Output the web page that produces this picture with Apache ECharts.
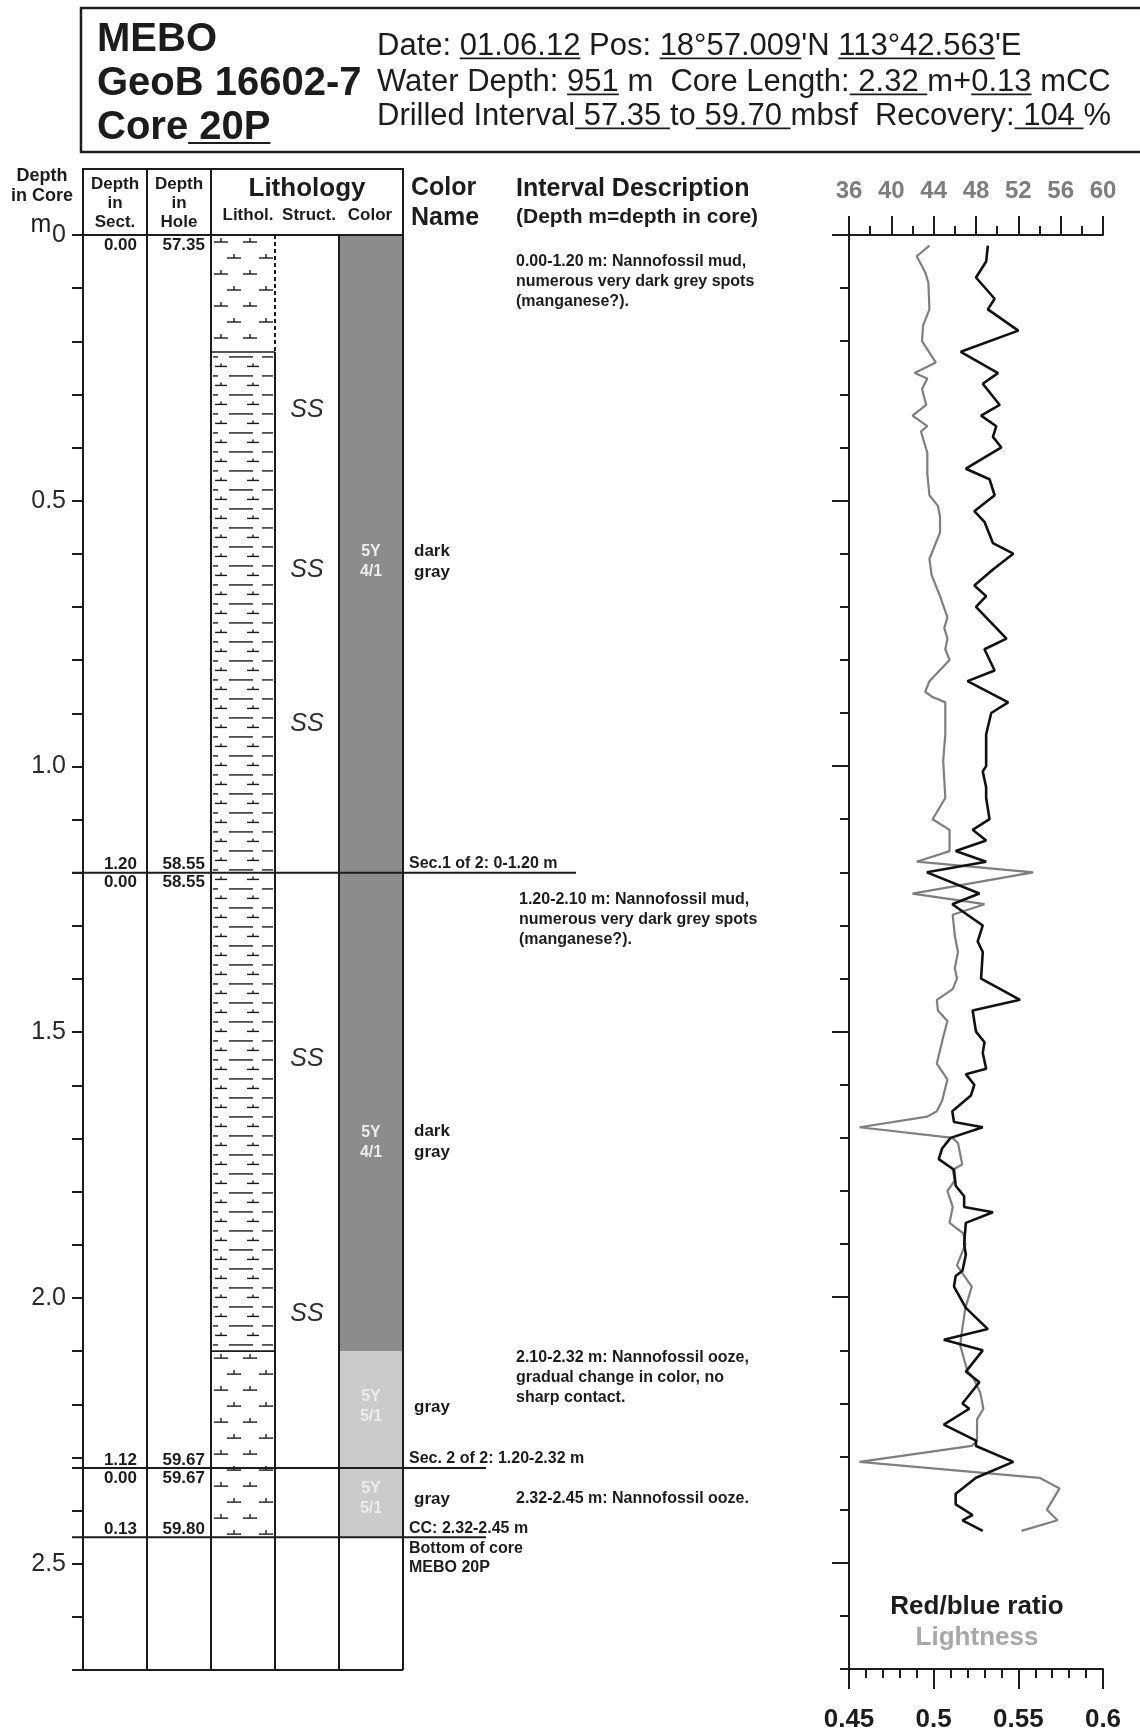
<!DOCTYPE html>
<html>
<head>
<meta charset="utf-8">
<script src="https://cdn.jsdelivr.net/npm/echarts@6/dist/echarts.min.js"></script>
<style>
  html, body { margin: 0; padding: 0; background: #fff; }
  #chart { width: 1140px; height: 1735px; }
</style>
</head>
<body>
<div id="chart"></div>
<script>
// ---- core data (depth in core, m) ----
const secTop = [0, 1.20, 2.32]
const secBottom = [1.20, 2.32, 2.45]
const secName = ['Sec.1 of 2: 0-1.20 m', 'Sec. 2 of 2: 1.20-2.32 m', 'CC: 2.32-2.45 m']
const secLenLabel = ['1.20', '1.12', '0.13']
const secHoleTop = ['57.35', '58.55', '59.67']
const secHoleBottom = ['58.55', '59.67', '59.80']
const bottomNote = 'Bottom of core\nMEBO 20P'

const lithTop = [0, 0.22, 2.10]
const lithBottom = [0.22, 2.10, 2.45]
const lithType = ['ooze', 'mud', 'ooze']

const structDepth = [0.33, 0.63, 0.92, 1.55, 2.03]

const colorTop = [0, 1.20, 2.10, 2.32]
const colorBottom = [1.20, 2.10, 2.32, 2.45]
const colorCode = ['5Y 4/1', '5Y 4/1', '5Y 5/1', '5Y 5/1']
const colorName = ['dark gray', 'dark gray', 'gray', 'gray']
const colorLabelDepth = [0.615, 1.707, 2.205, 2.378]

const descDepth = [0.05, 1.25, 2.113, 2.378]
const descText = [
  '0.00-1.20 m: Nannofossil mud,\nnumerous very dark grey spots\n(manganese?).',
  '1.20-2.10 m: Nannofossil mud,\nnumerous very dark grey spots\n(manganese?).',
  '2.10-2.32 m: Nannofossil ooze,\ngradual change in color, no\nsharp contact.',
  '2.32-2.45 m: Nannofossil ooze.'
]

// ---- colour scan curves ----
const rbDepth = [0.02, 0.05, 0.08, 0.12, 0.14, 0.18, 0.22, 0.26, 0.28, 0.32, 0.34, 0.36, 0.38, 0.40, 0.44, 0.46,
  0.49, 0.52, 0.54, 0.58, 0.60, 0.63, 0.66, 0.68, 0.70, 0.76, 0.78, 0.82, 0.84, 0.88, 0.90, 0.94, 1.00, 1.01,
  1.04, 1.06, 1.10, 1.12, 1.14, 1.16, 1.18, 1.20, 1.24, 1.26, 1.30, 1.33, 1.35, 1.40, 1.44, 1.46, 1.50, 1.52,
  1.54, 1.57, 1.58, 1.60, 1.62, 1.65, 1.67, 1.68, 1.70, 1.72, 1.74, 1.76, 1.79, 1.81, 1.83, 1.84, 1.86, 1.90,
  1.92, 1.95, 1.96, 1.98, 2.02, 2.06, 2.08, 2.10, 2.14, 2.16, 2.20, 2.21, 2.24, 2.27, 2.28, 2.31, 2.34, 2.37,
  2.39, 2.41, 2.42, 2.44]
const rbValue = [0.532, 0.531, 0.525, 0.536, 0.532, 0.550, 0.516, 0.538, 0.529, 0.539, 0.528, 0.537, 0.535, 0.540,
  0.519, 0.533, 0.536, 0.524, 0.530, 0.535, 0.547, 0.535, 0.524, 0.531, 0.525, 0.543, 0.530, 0.536, 0.520, 0.544,
  0.534, 0.531, 0.531, 0.529, 0.531, 0.531, 0.533, 0.523, 0.531, 0.513, 0.531, 0.496, 0.527, 0.511, 0.529, 0.526,
  0.529, 0.528, 0.551, 0.523, 0.525, 0.530, 0.529, 0.531, 0.519, 0.524, 0.522, 0.511, 0.512, 0.529, 0.510, 0.505,
  0.503, 0.512, 0.513, 0.518, 0.518, 0.535, 0.519, 0.518, 0.519, 0.517, 0.513, 0.512, 0.519, 0.532, 0.506, 0.529,
  0.519, 0.527, 0.517, 0.521, 0.506, 0.525, 0.525, 0.547, 0.525, 0.513, 0.513, 0.523, 0.517, 0.529]

const lDepth = [0.02, 0.04, 0.07, 0.09, 0.14, 0.17, 0.20, 0.24, 0.26, 0.27, 0.29, 0.32, 0.34, 0.36, 0.37, 0.41,
  0.45, 0.49, 0.51, 0.53, 0.56, 0.61, 0.64, 0.68, 0.72, 0.74, 0.76, 0.78, 0.80, 0.84, 0.86, 0.87, 0.88, 0.94,
  0.99, 1.06, 1.10, 1.12, 1.16, 1.18, 1.20, 1.24, 1.26, 1.28, 1.32, 1.35, 1.38, 1.40, 1.42, 1.44, 1.46, 1.48,
  1.51, 1.56, 1.59, 1.63, 1.65, 1.66, 1.68, 1.70, 1.71, 1.75, 1.76, 1.78, 1.80, 1.83, 1.86, 1.88, 1.90, 1.94,
  1.98, 2.02, 2.06, 2.09, 2.14, 2.15, 2.18, 2.21, 2.23, 2.27, 2.28, 2.31, 2.34, 2.36, 2.40, 2.42, 2.44]
const lValue = [43.6, 42.4, 43.2, 43.5, 43.6, 43.0, 42.9, 44.2, 42.2, 43.4, 42.9, 43.3, 42.0, 43.4, 42.8, 43.4,
  43.4, 43.6, 44.4, 44.6, 44.6, 43.6, 43.8, 44.6, 45.3, 45.0, 45.3, 45.1, 45.5, 43.6, 43.2, 43.9, 45.1, 45.1,
  44.9, 45.1, 43.9, 45.5, 45.5, 42.4, 53.4, 42.0, 48.8, 45.8, 46.0, 46.3, 46.0, 46.2, 45.8, 44.3, 44.4, 45.3,
  44.9, 44.3, 45.3, 44.8, 44.3, 43.4, 37.0, 45.8, 46.3, 46.7, 45.8, 46.0, 45.3, 45.8, 45.5, 46.8, 47.0, 46.2,
  47.6, 47.0, 46.7, 46.5, 47.2, 47.7, 48.4, 48.7, 48.1, 48.1, 47.6, 37.0, 54.0, 55.9, 54.7, 55.7, 52.3]

// ---- header text ----
const titleLines = [
  [['MEBO', 0]],
  [['GeoB 16602-7', 0]],
  [['Core', 0], [' 20P', 1]]
]
const infoLines = [
  [['Date: ', 0], ['01.06.12', 1], [' Pos: ', 0], ['18°57.009', 1], ['\'N ', 0], ['113°42.563', 1], ['\'E', 0]],
  [['Water Depth: ', 0], ['951', 1], [' m  Core Length:', 0], [' 2.32 ', 1], ['m+', 0], ['0.13', 1], [' mCC', 0]],
  [['Drilled Interval', 0], [' 57.35 ', 1], ['to', 0], [' 59.70 ', 1], ['mbsf  Recovery:', 0], [' 104 ', 1], ['%', 0]]
]

const FONT = "'Liberation Sans', Arial, Helvetica, sans-serif"
const INK = '#1c1c1c'
const depthMax = 2.7
const munsellFill = { '5Y 4/1': '#8c8c8c', '5Y 5/1': '#cbcbcb' }

const chart = echarts.init(document.getElementById('chart'))

const measureCtx = document.createElement('canvas').getContext('2d')
function textWidth(t, size, weight) {
  measureCtx.font = `${weight} ${size}px ${FONT}`
  return measureCtx.measureText(t).width
}

function txt(x, y, text, o) {
  o = o || {}
  const style = {
    text,
    fill: o.fill || INK,
    fontSize: o.size || 17,
    fontWeight: o.weight || 'bold',
    fontStyle: o.style || 'normal',
    fontFamily: FONT,
    align: o.align || 'left',
    verticalAlign: o.va || 'middle'
  }
  if (o.lh) style.lineHeight = o.lh
  return { type: 'text', x, y, silent: true, style }
}

function seg(x1, y1, x2, y2, w, dash) {
  const style = { stroke: INK, lineWidth: w || 2 }
  if (dash) style.lineDash = dash
  return { type: 'line', silent: true, shape: { x1, y1, x2, y2 }, style }
}

function textRow(x, y, parts, size, weight) {
  const out = []
  let cx = x
  parts.forEach(([t, u]) => {
    const w = textWidth(t, size, weight)
    out.push(txt(cx, y, t, { size, weight }))
    if (u) out.push(seg(cx, y + size * 0.3 + 3, cx + w, y + size * 0.3 + 3, 1.8))
    cx += w
  })
  return out
}

// header graphics (layout only)
const headerGraphics = [
  { type: 'rect', silent: true, shape: { x: 81, y: 8, width: 1080, height: 144 }, style: { fill: 'none', stroke: INK, lineWidth: 2.5 } },
  ...textRow(97, 40, titleLines[0], 40, 'bold'),
  ...textRow(97, 84, titleLines[1], 40, 'bold'),
  ...textRow(97, 128, titleLines[2], 40, 'bold'),
  ...textRow(377, 46, infoLines[0], 31, 'normal'),
  ...textRow(377, 82, infoLines[1], 31, 'normal'),
  ...textRow(377, 116, infoLines[2], 31, 'normal'),
  // column header block
  { type: 'rect', silent: true, shape: { x: 83, y: 169, width: 320, height: 66 }, style: { fill: 'none', stroke: INK, lineWidth: 2 } },
  seg(147, 169, 147, 235), seg(211, 169, 211, 235),
  txt(42, 186, 'Depth\nin Core', { size: 18, align: 'center', lh: 20 }),
  txt(41, 225, 'm', { size: 25, weight: 'normal', align: 'center' }),
  txt(115, 203, 'Depth\nin\nSect.', { size: 17, align: 'center', lh: 19 }),
  txt(179, 203, 'Depth\nin\nHole', { size: 17, align: 'center', lh: 19 }),
  txt(307, 189, 'Lithology', { size: 26, align: 'center' }),
  txt(248, 215, 'Lithol.', { size: 17, align: 'center' }),
  txt(309, 215, 'Struct.', { size: 17, align: 'center' }),
  txt(370, 215, 'Color', { size: 17, align: 'center' }),
  txt(411, 203, 'Color\nName', { size: 25, lh: 30 }),
  txt(516, 189, 'Interval Description', { size: 25 }),
  txt(516, 217, '(Depth m=depth in core)', { size: 21 }),
  // curve legend
  txt(977, 1607, 'Red/blue ratio', { size: 26, align: 'center' }),
  txt(977, 1638, 'Lightness', { size: 26, align: 'center', fill: '#a8a8a8' })
]

function renderFrame(params, api) {
  const X = c => api.coord([c, 0])[0]
  const yT = api.coord([0, 0])[1]
  const yB = api.coord([0, depthMax])[1]
  const yL = api.coord([0, lithBottom[0]])[1]
  return {
    type: 'group',
    children: [
      seg(X(0) - 11, yT, X(5), yT),
      seg(X(1), yT, X(1), yB), seg(X(2), yT, X(2), yB),
      seg(X(3), yL, X(3), yB),
      seg(X(4), yT, X(4), yB), seg(X(5), yT, X(5), yB),
      seg(X(0), yB, X(5), yB)
    ]
  }
}

function renderColor(params, api) {
  const i = params.dataIndex
  const [xl, yt] = api.coord([4, colorTop[i]])
  const [xr, yb] = api.coord([5, colorBottom[i]])
  const yl = api.coord([4, colorLabelDepth[i]])[1]
  return {
    type: 'group',
    children: [
      { type: 'rect', silent: true, shape: { x: xl, y: yt, width: xr - xl, height: yb - yt }, style: { fill: munsellFill[colorCode[i]] } },
      txt((xl + xr) / 2, yl, colorCode[i].split(' ').join('\n'), { size: 16, weight: 'bold', fill: '#ececec', align: 'center', lh: 20 }),
      txt(xr + 11, yl, colorName[i].split(' ').join('\n'), { size: 17, lh: 21 })
    ]
  }
}

function tee(cx, y, half, up) {
  return [seg(cx - half, y, cx + half, y, 1.4), seg(cx, y, cx, y - up, 1.4)]
}

function renderLith(params, api) {
  const i = params.dataIndex
  const [x0, y0] = api.coord([2, lithTop[i]])
  const [x1, y1] = api.coord([3, lithBottom[i]])
  const ch = []
  if (lithType[i] === 'mud') {
    for (let k = 0, y = y0 + 5; y < y1 - 2; k++, y += 9.5) {
      if (k % 2) {
        ch.push(...tee(x0 + 10, y, 6, 3), ...tee(x0 + 42, y, 6, 3))
      } else {
        ch.push(seg(x0 + 2, y, x0 + 7, y, 1.4), seg(x0 + 18, y, x0 + 42, y, 1.4), seg(x0 + 51, y, x0 + 62, y, 1.4))
      }
    }
  } else {
    for (let k = 0, y = y0 + 7; y < y1 - 3; k++, y += 16) {
      const xs = k % 2 ? [x0 + 23, x0 + 55] : [x0 + 10, x0 + 39]
      xs.forEach(cx => ch.push(...tee(cx, y, 7, 4)))
    }
  }
  if (i > 0) ch.push(seg(x0, y0, x1, y0, 1.6))
  ch.push(seg(x1, y0, x1, y1, 2, i === 0 ? [4, 3] : null))
  return { type: 'group', children: ch }
}

function renderStruct(params, api) {
  const i = params.dataIndex
  const [x, y] = api.coord([3.5, structDepth[i]])
  return txt(x, y, 'SS', { size: 25, weight: 'normal', style: 'italic', align: 'center', fill: '#2e2e2e' })
}

function renderSection(params, api) {
  const i = params.dataIndex
  const X = c => api.coord([c, 0])[0]
  const yt = api.coord([0, secTop[i]])[1]
  const yb = api.coord([0, secBottom[i]])[1]
  const ext = i === 0 ? 173 : 83
  const ch = [
    seg(X(0) - 11, yb, X(5) + ext, yb, 2),
    txt(X(1) - 10, yt + 10, '0.00', { align: 'right' }),
    txt(X(2) - 6, yt + 10, secHoleTop[i], { align: 'right' }),
    txt(X(1) - 10, yb - 8, secLenLabel[i], { align: 'right' }),
    txt(X(2) - 6, yb - 8, secHoleBottom[i], { align: 'right' }),
    txt(X(5) + 6, yb - 9, secName[i], { size: 16 })
  ]
  if (i === secTop.length - 1) ch.push(txt(X(5) + 6, yb + 2, bottomNote, { size: 16, va: 'top', lh: 19 }))
  return { type: 'group', children: ch }
}

function renderDesc(params, api) {
  const i = params.dataIndex
  const [x, y] = api.coord([5, descDepth[i]])
  return txt(x + (i === 1 ? 116 : 113), y - 10, descText[i], { size: 16, va: 'top', lh: 20 })
}

const idx = arr => arr.map((_, i) => i)
const blackAxis = { show: true, onZero: false, lineStyle: { color: INK, width: 2 } }

const option = {
  animation: false,
  backgroundColor: '#fff',
  graphic: headerGraphics,
  grid: [
    { left: 83, top: 235, width: 320, height: 1435, outerBoundsMode: 'none' },
    { left: 849, top: 235, width: 254, height: 1434, outerBoundsMode: 'none' }
  ],
  xAxis: [
    { gridIndex: 0, type: 'value', min: 0, max: 5, show: false },
    {
      gridIndex: 1, type: 'value', position: 'top', min: 36, max: 60, interval: 4,
      axisLine: blackAxis,
      axisTick: { show: true, length: 19, lineStyle: { color: INK, width: 2 } },
      minorTick: { show: true, splitNumber: 2, length: 9, lineStyle: { color: INK, width: 2 } },
      axisLabel: { margin: 32, color: '#7d7d7d', fontSize: 24, fontWeight: 'bold', fontFamily: FONT },
      splitLine: { show: false }
    },
    {
      gridIndex: 1, type: 'value', position: 'bottom', min: 0.45, max: 0.6, interval: 0.05,
      axisLine: blackAxis,
      axisTick: { show: true, length: 20, lineStyle: { color: INK, width: 2 } },
      minorTick: { show: true, splitNumber: 5, length: 9, lineStyle: { color: INK, width: 2 } },
      axisLabel: { margin: 38, color: INK, fontSize: 26, fontWeight: 'bold', fontFamily: FONT },
      splitLine: { show: false }
    }
  ],
  yAxis: [
    {
      gridIndex: 0, type: 'value', inverse: true, min: 0, max: depthMax, interval: 0.1, position: 'left',
      axisLine: blackAxis,
      axisTick: { show: true, length: 11, lineStyle: { color: INK, width: 2 } },
      axisLabel: {
        margin: 17, color: '#2a2a2a', fontSize: 25, fontFamily: FONT,
        formatter: v => Math.abs(v * 2 - Math.round(v * 2)) < 1e-6 ? (v === 0 ? '0' : v.toFixed(1)) : ''
      },
      splitLine: { show: false }
    },
    {
      gridIndex: 1, type: 'value', inverse: true, min: 0, max: depthMax, interval: 0.1, position: 'left',
      axisLine: blackAxis,
      axisTick: { show: true, length: 9, lineStyle: { color: INK, width: 2 } },
      axisLabel: { show: false },
      splitLine: { show: false }
    },
    {
      gridIndex: 1, type: 'value', inverse: true, min: 0, max: depthMax, interval: 0.5, position: 'left',
      axisLine: { show: false, onZero: false },
      axisTick: { show: true, length: 17, customValues: [0, 0.5, 1, 1.5, 2, 2.5], lineStyle: { color: INK, width: 2 } },
      axisLabel: { show: false },
      splitLine: { show: false }
    }
  ],
  series: [
    { type: 'custom', name: 'color', xAxisIndex: 0, yAxisIndex: 0, silent: true, clip: false, z: 1, data: idx(colorTop), renderItem: renderColor },
    { type: 'custom', name: 'lith', xAxisIndex: 0, yAxisIndex: 0, silent: true, clip: false, z: 2, data: idx(lithTop), renderItem: renderLith },
    { type: 'custom', name: 'frame', xAxisIndex: 0, yAxisIndex: 0, silent: true, clip: false, z: 3, data: [0], renderItem: renderFrame },
    { type: 'custom', name: 'struct', xAxisIndex: 0, yAxisIndex: 0, silent: true, clip: false, z: 3, data: idx(structDepth), renderItem: renderStruct },
    { type: 'custom', name: 'sections', xAxisIndex: 0, yAxisIndex: 0, silent: true, clip: false, z: 4, data: idx(secTop), renderItem: renderSection },
    { type: 'custom', name: 'desc', xAxisIndex: 0, yAxisIndex: 0, silent: true, clip: false, z: 4, data: idx(descDepth), renderItem: renderDesc },
    {
      type: 'line', name: 'Lightness', xAxisIndex: 1, yAxisIndex: 1, z: 2, silent: true,
      showSymbol: false, data: lValue.map((v, i) => [v, lDepth[i]]),
      lineStyle: { color: '#7f7f7f', width: 2.2 }
    },
    {
      type: 'line', name: 'Red/blue ratio', xAxisIndex: 2, yAxisIndex: 1, z: 3, silent: true,
      showSymbol: false, data: rbValue.map((v, i) => [v, rbDepth[i]]),
      lineStyle: { color: '#111', width: 2.6 }
    }
  ]
}

chart.setOption(option)
</script>
</body>
</html>
